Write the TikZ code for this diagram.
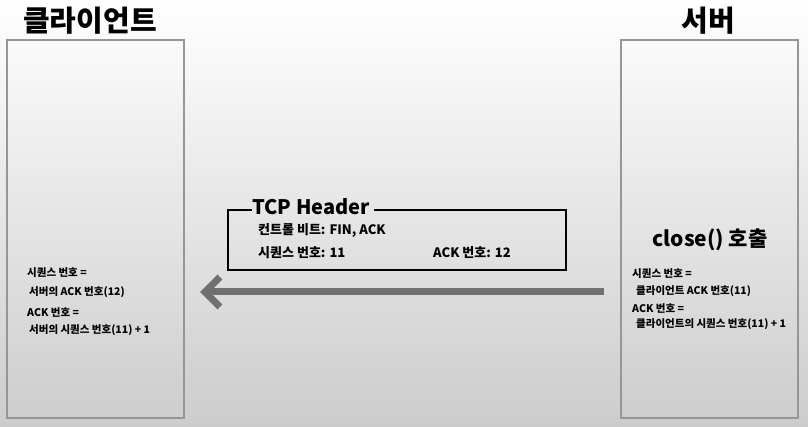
\documentclass[tikz,border=0pt]{standalone}
\usepackage{fontspec}
\usepackage{tikz}
\usetikzlibrary{arrows.meta, positioning, backgrounds}
\setmainfont{Noto Sans CJK KR}
\definecolor{framegray}{RGB}{150,150,150}
\definecolor{arrowgray}{RGB}{112,112,112}

\begin{document}
\begin{tikzpicture}[
    x=1pt, y=-1pt,
    host box/.style={draw=framegray,line width=1.2pt,minimum width=177pt,minimum height=378pt,inner sep=0pt},
    host title/.style={font=\fontsize{29}{30}\selectfont\bfseries},
    note text/.style={anchor=west,inner sep=0pt,font=\fontsize{10.5}{12}\selectfont\bfseries,align=left},
    header text/.style={anchor=west,inner sep=0pt,font=\fontsize{13}{14}\selectfont\bfseries},
    send arrow/.style={arrowgray,line width=7pt,-{Straight Barb[length=15pt,width=30pt]}}
]

% Background
\fill[top color=white,middle color=black!3,bottom color=black!20] (0,0) rectangle (808,427);
\useasboundingbox (0,0) rectangle (808,427);

% Client side
\node[host box] (client) at (95.5,229) {};
\node[host title] (clienttitle) at (90,21) {클라이언트};
\node[note text] (clientseq) at (27,273) {시퀀스 번호 =};
\node[note text] (clientseqval) at (29,292) {서버의 ACK 번호(12)};
\node[note text] (clientack) at (27,313) {ACK 번호 =};
\node[note text] (clientackval) at (29,330) {서버의 시퀀스 번호(11) + 1};

% Server side
\node[host box] (server) at (709.5,229) {};
\node[host title] (servertitle) at (708,21) {서버};
\node[font=\fontsize{21}{22}\selectfont\bfseries] (close) at (710,240) {close() 호출};
\node[note text] (serverseq) at (632,274) {시퀀스 번호 =};
\node[note text] (serverseqval) at (636,291) {클라이언트 ACK 번호(11)};
\node[note text] (serverack) at (632,308) {ACK 번호 =};
\node[note text] (serverackval) at (636,324) {클라이언트의 시퀀스 번호(11) + 1};

% TCP Header
\draw[line width=1.6pt] (252,210) -- (228,210) -- (228,270) -- (566,270) -- (566,210) -- (374,210);
\node[anchor=west,inner sep=0pt,font=\fontsize{20}{21}\selectfont\bfseries] (tcp) at (252,207) {TCP Header};
\node[header text] (ctrl) at (258,230) {컨트롤 비트: FIN, ACK};
\node[header text] (seq) at (258,253) {시퀀스 번호: 11};
\node[header text] (ack) at (433,253) {ACK 번호: 12};

% Arrow
\coordinate (from) at (604,292);
\coordinate (to) at (200,292);
\draw[send arrow] (from) -- (to);

\end{tikzpicture}
\end{document}
